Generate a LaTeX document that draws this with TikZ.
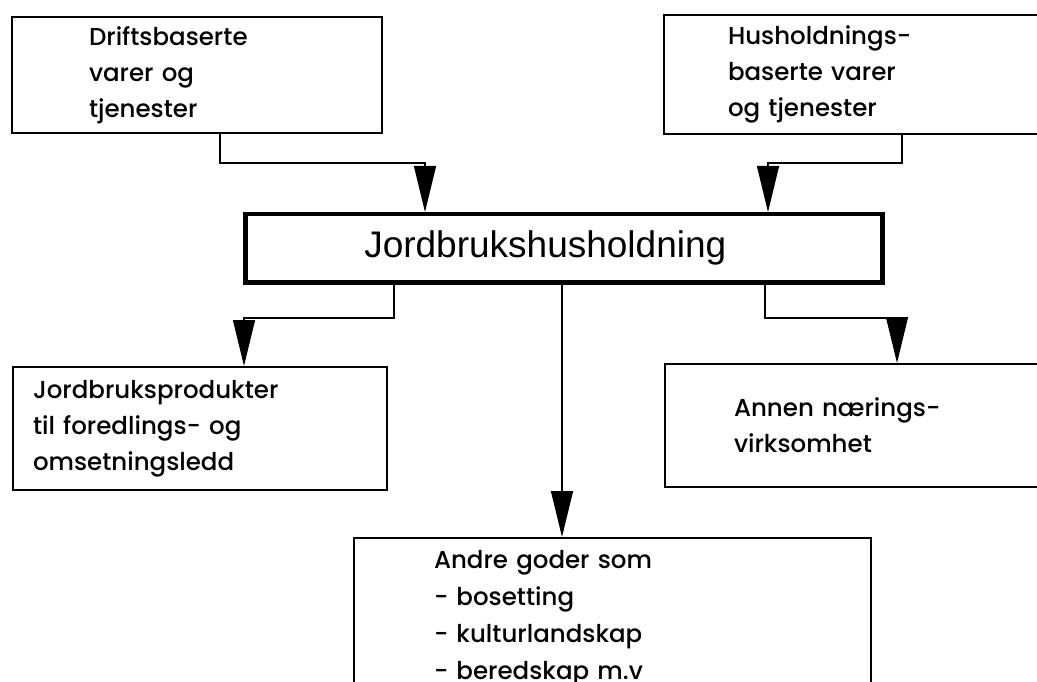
\documentclass[tikz,border=0pt]{standalone}
\usepackage{fontspec}
\setmainfont{Poppins}[UprightFont={* Medium}]
\newfontfamily\mainf{Liberation Sans}
\usetikzlibrary{arrows.meta}
\tikzset{
  box/.style={draw, line width=2pt, rectangle, align=left, anchor=north west,
    font=\fontsize{24.5}{36}\selectfont, inner ysep=0pt},
  mainbox/.style={draw, line width=4.5pt, rectangle, anchor=north west,
    font=\mainf\fontsize{37}{40}\selectfont, inner ysep=0pt},
  conn/.style={line width=1.3pt},
  arr/.style={conn, -{Triangle[width=22pt,length=46pt]}},
}
\begin{document}
\begin{tikzpicture}[x=1pt,y=-1pt]
\useasboundingbox (0,0) rectangle (1037,682);
\clip (0,0) rectangle (1037,682);
\node[box, minimum width=370pt, minimum height=116pt, inner xsep=77pt, text width=216pt] (b1) at (11,16)
  {Driftsbaserte\\varer og\\tjenester};
\node[box, minimum width=420pt, minimum height=119pt, inner xsep=64pt, text width=292pt] (b2) at (663,14)
  {Husholdnings-\\baserte varer\\og tjenester};
\node[mainbox, minimum width=637pt, minimum height=68pt, inner xsep=119pt, text width=399pt, align=left] (m) at (243,212)
  {Jordbrukshusholdning};
\node[box, minimum width=374pt, minimum height=123pt, inner xsep=20pt, text width=334pt] (b3) at (12,366)
  {Jordbruksprodukter\\til foredlings- og\\omsetningsledd};
\node[box, minimum width=420pt, minimum height=123pt, inner xsep=69pt, text width=282pt] (b4) at (664,363)
  {Annen nærings-\\virksomhet};
\node[box, minimum width=517pt, inner xsep=80pt, inner ysep=12pt, text width=357pt, font=\fontsize{24.5}{37}\selectfont] (b5) at (353,537)
  {Andre goder som\\- bosetting\\- kulturlandskap\\- beredskap m.v};
\coordinate (k1) at (220,163);
\coordinate (a1) at (425,0);
\coordinate (k2) at (902,163);
\coordinate (a2) at (768,0);
\coordinate (k3) at (394,318);
\coordinate (a3) at (244,0);
\coordinate (k4) at (562,0);
\coordinate (k5) at (765,318);
\coordinate (a5) at (897,0);
\draw[arr] (b1.south -| k1) -- (k1) -| (m.north -| a1);
\draw[arr] (b2.south -| k2) -- (k2) -| (m.north -| a2);
\draw[arr] (m.south -| k3) -- (k3) -| (b3.north -| a3);
\draw[arr] (m.south -| k4) -- (b5.north -| k4);
\draw[arr] (m.south -| k5) -- (k5) -| (b4.north -| a5);
\end{tikzpicture}
\end{document}
